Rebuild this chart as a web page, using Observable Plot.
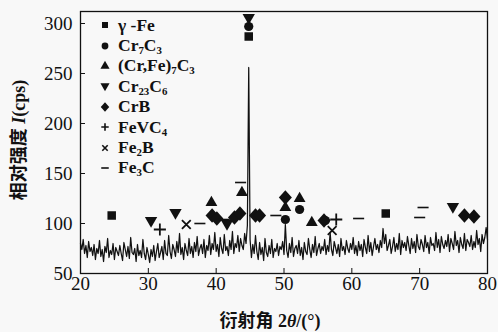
<!DOCTYPE html>
<html><head><meta charset="utf-8">
<script src="https://cdn.jsdelivr.net/npm/d3@7"></script>
<script src="https://cdn.jsdelivr.net/npm/@observablehq/plot@0.6"></script>
<style>
body{margin:0;background:#f8f8f8;}
#wrap{position:relative;width:498px;height:332px;}
#wrap svg text{font-family:"Liberation Serif","DejaVu Serif","Times New Roman",serif;font-size:19px;fill:#111}
.legend{position:absolute;left:96px;top:15px;font-family:"Liberation Serif","DejaVu Serif","Times New Roman",serif;font-weight:bold;font-size:17.5px;color:#111;}
.legend .row{height:20.4px;display:flex;align-items:center;white-space:nowrap}
.legend svg{width:18px;height:18px;margin-right:4px;overflow:visible;flex:none}
.legend sub{font-size:0.62em;vertical-align:-0.3em;line-height:0}
.ylab{position:absolute;left:18px;top:140px;transform:translate(-50%,-50%) rotate(-90deg);white-space:nowrap;font-size:18px;line-height:1;color:#111}
.xlab{position:absolute;left:270px;top:320px;transform:translate(-50%,-50%);white-space:nowrap;font-size:18px;line-height:1;color:#111}
.cjk{font-family:"Noto Sans CJK SC",sans-serif;font-weight:bold}
.ser{font-family:"Liberation Serif","DejaVu Serif","Times New Roman",serif;font-weight:bold}
</style></head>
<body><div id="wrap"></div>
<script>
// ---- data ----
const xTicks = [20, 30, 40, 50, 60, 70, 80];
const yTicks = [50, 100, 150, 200, 250, 300];
const scanStart = 20, scanStep = 0.2;
const intensity = [
80,74,84,70,78,66,82,72,76,68,
79,64,75,70,83,67,74,62,77,71,
85,66,73,69,80,64,76,72,68,78,
70,63,81,74,67,77,65,86,71,69,
75,62,79,68,73,66,84,70,64,76,
69,61,74,67,78,63,72,80,66,71,
77,64,83,70,68,88,72,65,79,74,
67,82,71,90,69,76,64,80,73,68,
85,70,77,66,81,72,87,68,75,79,
70,84,66,78,73,88,69,80,74,91,
72,79,67,86,75,70,89,73,77,68,
83,74,92,70,80,76,88,72,85,78,
74,90,80,98,256,
84,66,79,70,88,
72,64,81,69,76,63,85,71,67,78,
70,84,66,75,72,80,68,77,74,82,
69,99,73,66,80,71,86,67,75,78,
70,83,68,76,64,81,72,69,85,74,
66,79,71,87,68,75,80,70,77,73,
84,69,78,72,91,74,68,82,76,70,
79,67,85,73,77,69,83,75,71,80,
74,86,70,78,68,82,73,79,67,84,
76,70,88,72,81,68,77,85,74,79,
71,83,76,95,80,89,73,78,84,70,
77,86,72,80,74,90,69,83,76,81,
73,87,78,70,85,75,82,71,89,77,
74,84,79,72,88,76,81,70,86,78,
80,73,91,76,84,71,87,79,75,83,
77,89,72,85,80,74,92,78,83,71,
86,79,75,90,73,84,81,77,88,74,
82,76,93,79,85,72,89,80,86,96,
84
];
const phaseNames = ["γ -Fe", "Cr<sub>7</sub>C<sub>3</sub>", "(Cr,Fe)<sub>7</sub>C<sub>3</sub>", "Cr<sub>23</sub>C<sub>6</sub>", "CrB", "FeVC<sub>4</sub>", "Fe<sub>2</sub>B", "Fe<sub>3</sub>C"];
const gammaFe = [[24.6,108],[44.8,287],[65.0,110]];
const cr7c3 = [[44.8,297],[50.2,104],[52.3,114],[56.1,103]];
const crfe7c3 = [[39.3,121],[43.8,131],[50.2,116],[52.3,125],[54.1,101]];
const cr23c6 = [[30.4,103],[34.0,111],[41.6,100],[44.8,306],[74.9,117]];
const crb = [[39.4,108],[40.1,105],[42.7,106],[43.5,110],[45.8,108],[46.4,108],[50.2,126],[55.9,103],[76.6,108],[78.0,107]];
const fevc4 = [[31.7,94],[57.7,104]];
const fe2b = [[35.6,99],[57.1,93]];
const fe3c = [[37.6,100],[41.2,104],[43.6,141],[48.8,108],[61.0,105],[70.0,106],[70.5,116]];

// ---- symbols ----
const sqrt3 = Math.sqrt(3);
const triDown = {draw(c, size){ const y = Math.sqrt(size/(sqrt3*3)); c.moveTo(0, y*2); c.lineTo(-sqrt3*y, -y); c.lineTo(sqrt3*y, -y); c.closePath(); }};
const diamondSym = {draw(c, size){ const r = Math.sqrt(size/2); c.moveTo(0,-r*1.1); c.lineTo(r,0); c.lineTo(0,r*1.1); c.lineTo(-r,0); c.closePath(); }};
const dashSym = {draw(c, size){ const w = Math.sqrt(size)*1.25, h = 0.8; c.moveTo(-w/2,-h); c.lineTo(w/2,-h); c.lineTo(w/2,h); c.lineTo(-w/2,h); c.closePath(); }};
const plusSym = {draw(c, size){ const r = Math.sqrt(size)*0.62; c.moveTo(-r,0); c.lineTo(r,0); c.moveTo(0,-r); c.lineTo(0,r); }};
const timesSym = {draw(c, size){ const r = Math.sqrt(size)*0.45; c.moveTo(-r,-r); c.lineTo(r,r); c.moveTo(r,-r); c.lineTo(-r,r); }};
const syms = [d3.symbolSquare, d3.symbolCircle, d3.symbolTriangle, triDown, diamondSym, plusSym, timesSym, dashSym];
const stroked = [false,false,false,false,false,true,true,false];
const sets = [gammaFe, cr7c3, crfe7c3, cr23c6, crb, fevc4, fe2b, fe3c];
const rs = [4.8, 4.6, 4.4, 4.6, 5.2, 5.5, 5.5, 5];

const scan = intensity.map((v,i) => ({t: +(scanStart + i*scanStep).toFixed(2), v}));

const marks = [
  Plot.line(scan, {x: "t", y: "v", stroke: "#111", strokeWidth: 1.25}),
  Plot.frame({stroke: "#111", strokeWidth: 1.3}),
  Plot.axisX({ticks: xTicks, tickSize: -5, tickPadding: 8, label: null, tickFormat: d => d}),
  Plot.axisY({ticks: yTicks, tickSize: -5, tickPadding: 13, label: null, tickFormat: d => d})
];
sets.forEach((s, k) => {
  const opts = {x: d => d[0], y: d => d[1], symbol: syms[k], r: rs[k]};
  if (stroked[k]) { opts.stroke = "#111"; opts.strokeWidth = 1.8; opts.fill = "none"; }
  else { opts.fill = "#111"; opts.stroke = "none"; }
  marks.push(Plot.dot(s, opts));
});

const plot = Plot.plot({
  width: 498, height: 332,
  marginLeft: 80, marginRight: 11, marginTop: 11, marginBottom: 59,
  style: {background: "transparent", fontFamily: "Liberation Serif, serif", fontSize: "19px", color: "#111"},
  x: {domain: [20, 80], label: null},
  y: {domain: [50, 312], label: null},
  marks
});
const wrap = document.getElementById("wrap");
wrap.appendChild(plot);

// legend
const leg = document.createElement("div");
leg.className = "legend";
phaseNames.forEach((name, k) => {
  const row = document.createElement("div");
  row.className = "row";
  const path = d3.symbol(syms[k], 36)();
  const st = stroked[k] ? 'fill="none" stroke="#111" stroke-width="1.6"' : 'fill="#111"';
  row.innerHTML = `<svg viewBox="-9 -9 18 18"><path d="${path}" ${st}/></svg><span>${name}</span>`;
  leg.appendChild(row);
});
wrap.appendChild(leg);

const yl = document.createElement("div");
yl.className = "ylab";
yl.innerHTML = '<span class="cjk">相对强度</span> <span class="ser"><i>I</i>(cps)</span>';
wrap.appendChild(yl);
const xl = document.createElement("div");
xl.className = "xlab";
xl.innerHTML = '<span class="cjk">衍射角</span> <span class="ser">2<i>θ</i>/(°)</span>';
wrap.appendChild(xl);
</script>
</body></html>
